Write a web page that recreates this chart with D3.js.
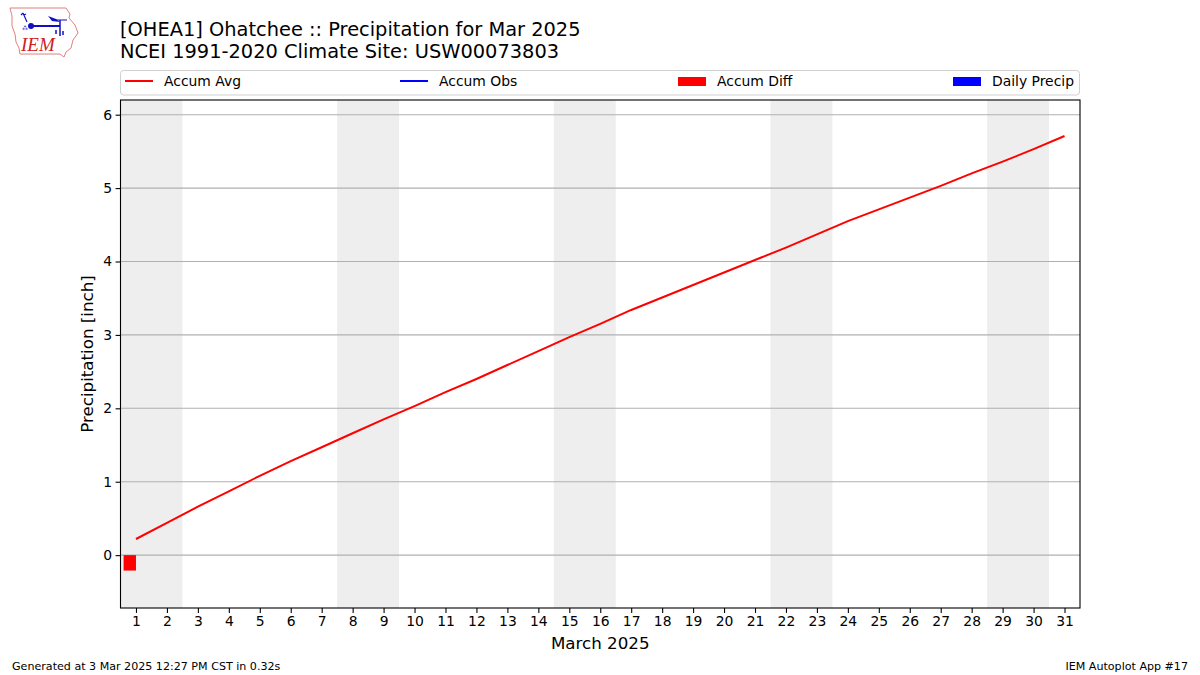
<!DOCTYPE html>
<html><head><meta charset="utf-8">
<script src="https://cdn.jsdelivr.net/npm/d3@7"></script>
<style>body{margin:0;background:#fff;} svg{font-family:"DejaVu Sans",sans-serif;}</style>
</head><body>
<svg id="c" width="1200" height="675"></svg>
<script>
const days = d3.range(1, 32);
const accumAvg = [0.22,0.44,0.66,0.87,1.08,1.28,1.47,1.66,1.85,2.03,2.22,2.40,2.59,2.78,2.97,3.15,3.34,3.51,3.68,3.85,4.02,4.19,4.37,4.55,4.71,4.87,5.03,5.20,5.36,5.53,5.71];
const accumDiffDays = [1];
const accumDiff = [-0.21];
const weekendStarts = [1, 8, 15, 22, 29];
const yTicks = [0,1,2,3,4,5,6];

const svg = d3.select("#c");
const L=120.5, R=1080, T=100, B=608;
const x = d3.scaleLinear().domain([0.5, 31.5]).range([L, R]);
const y = d3.scaleLinear().domain([-0.72, 6.2]).range([B, T]);

// weekend shading
svg.append("g").selectAll("rect").data(weekendStarts).join("rect")
  .attr("x", d=>x(d-0.5)).attr("width", d=>x(d+1.5)-x(d-0.5))
  .attr("y", T).attr("height", B-T).attr("fill", "#eeeeee");

// grid
svg.append("g").selectAll("line").data(yTicks).join("line")
  .attr("x1", L).attr("x2", R).attr("y1", d=>y(d)).attr("y2", d=>y(d))
  .attr("stroke", "#b0b0b0").attr("stroke-width", 1.1);

// diff bars
svg.append("g").selectAll("rect").data(accumDiffDays.map((d,i)=>[d,accumDiff[i]])).join("rect")
  .attr("x", d=>x(d[0]-0.4)).attr("width", d=>x(d[0])-x(d[0]-0.4))
  .attr("y", d=>y(Math.max(0,d[1]))).attr("height", d=>Math.abs(y(d[1])-y(0)))
  .attr("fill", "red");

// avg line
svg.append("path").datum(days.map((d,i)=>[d,accumAvg[i]]))
  .attr("d", d3.line().x(d=>x(d[0])).y(d=>y(d[1])))
  .attr("fill","none").attr("stroke","red").attr("stroke-width",2);

// axes
const xa = svg.append("g").attr("transform",`translate(0,${B})`)
  .call(d3.axisBottom(x).tickValues(days).tickFormat(d3.format("d")).tickSize(4.9).tickPadding(3.5));
const ya = svg.append("g").attr("transform",`translate(${L},0)`)
  .call(d3.axisLeft(y).tickValues(yTicks).tickFormat(d3.format("d")).tickSize(4.9).tickPadding(3.5));
[xa,ya].forEach(a=>{a.select(".domain").remove(); a.selectAll("text").attr("font-size",13.9).attr("font-family","DejaVu Sans").attr("fill","#000"); a.selectAll("line").attr("stroke","#000").attr("stroke-width",1.1);});

svg.append("rect").attr("x",L).attr("y",T).attr("width",R-L).attr("height",B-T)
  .attr("fill","none").attr("stroke","#000").attr("stroke-width",1.1);

// axis labels
svg.append("text").attr("x",(L+R)/2).attr("y",649).attr("text-anchor","middle").attr("font-size",16.7).text("March 2025");
svg.append("text").attr("transform",`translate(93,${(T+B)/2}) rotate(-90)`).attr("text-anchor","middle").attr("font-size",16.7).text("Precipitation [inch]");

// titles
svg.append("text").attr("x",120).attr("y",36).attr("font-size",19.4).text("[OHEA1] Ohatchee :: Precipitation for Mar 2025");
svg.append("text").attr("x",120).attr("y",58).attr("font-size",19.4).text("NCEI 1991-2020 Climate Site: USW00073803");

// legend
const lg = svg.append("g");
lg.append("rect").attr("x",120.5).attr("y",70.5).attr("width",959).attr("height",24.5).attr("rx",3)
  .attr("fill","#fff").attr("stroke","#d0d0d0");
const legendItems = [
  {label:"Accum Avg", type:"line", color:"red", x:125},
  {label:"Accum Obs", type:"line", color:"blue", x:400},
  {label:"Accum Diff", type:"rect", color:"red", x:678},
  {label:"Daily Precip", type:"rect", color:"blue", x:953}
];
legendItems.forEach(it=>{
  if(it.type==="line") lg.append("line").attr("x1",it.x).attr("x2",it.x+28).attr("y1",81).attr("y2",81).attr("stroke",it.color).attr("stroke-width",2);
  else lg.append("rect").attr("x",it.x).attr("y",77).attr("width",28).attr("height",9).attr("fill",it.color);
  lg.append("text").attr("x",it.x+39).attr("y",86).attr("font-size",13.9).text(it.label);
});

// footer
svg.append("text").attr("x",12).attr("y",670).attr("font-size",11.1).text("Generated at 3 Mar 2025 12:27 PM CST in 0.32s");
svg.append("text").attr("x",1188).attr("y",670).attr("font-size",11.1).attr("text-anchor","end").text("IEM Autoplot App #17");

// logo
const lo = svg.append("g");
lo.append("path").attr("d","M10,8 L66,8 L70,14 L69,18 L75,25 L78,33 L73,40 L71,48 L66,52 L64,57 L60,54 L20,54 L19,48 L16,42 L15,34 L12,26 L12,16 Z")
  .attr("fill","none").attr("stroke","#e08080").attr("stroke-width",1);
lo.append("line").attr("x1",30).attr("x2",60).attr("y1",26).attr("y2",26).attr("stroke","#1010c0").attr("stroke-width",2);
lo.append("circle").attr("cx",31).attr("cy",26).attr("r",3).attr("fill","#1010c0");
lo.append("path").attr("d","M27,22 L23,13 M23,13 L21,15 M24,15 L26,14").attr("stroke","#1010c0").attr("stroke-width",1.2).attr("fill","none");
lo.append("text").attr("x",22).attr("y",30).attr("font-size",6).attr("fill","#1010c0").text("⁂");
lo.append("path").attr("d","M48,16 L56,19 L60,22 L52,21 Z").attr("fill","#1010c0");
lo.append("line").attr("x1",60).attr("x2",60).attr("y1",20).attr("y2",36).attr("stroke","#1010c0").attr("stroke-width",1.5);
lo.append("line").attr("x1",55).attr("x2",67).attr("y1",20).attr("y2",20).attr("stroke","#1010c0").attr("stroke-width",1);
lo.append("path").attr("d","M56,30 L56,34 M63,31 L63,35").attr("stroke","#1010c0").attr("stroke-width",1.5);
lo.append("text").attr("x",21).attr("y",51).attr("font-family","Liberation Serif").attr("font-style","italic").attr("font-size",19).attr("fill","#d02020").text("IEM");
</script>
</body></html>
